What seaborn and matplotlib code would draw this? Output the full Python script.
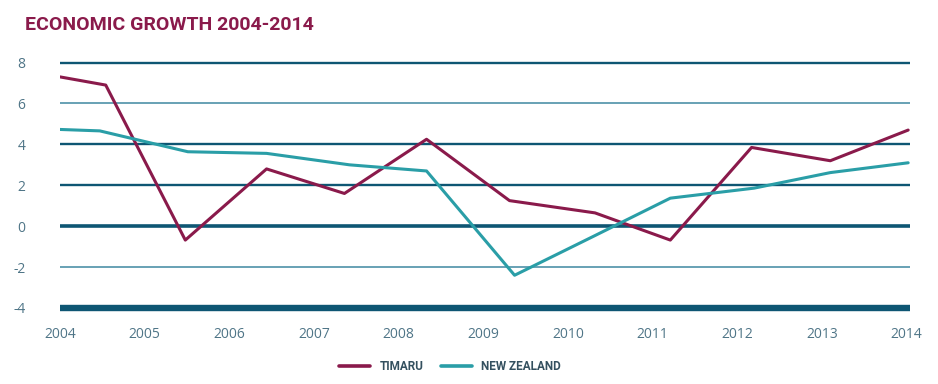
import matplotlib
matplotlib.use("Agg")
import matplotlib.pyplot as plt
import pandas as pd
import seaborn as sns

# data
timaru_x = [2004.0, 2004.54, 2005.48, 2006.44, 2007.36, 2008.33, 2009.31,
            2010.32, 2011.21, 2012.17, 2013.1, 2014.02]
timaru_y = [7.3, 6.9, -0.68, 2.8, 1.6, 4.25, 1.25, 0.65, -0.68, 3.85, 3.2, 4.7]
nz_x = [2004.0, 2004.47, 2005.51, 2006.44, 2007.42, 2008.33, 2009.37,
        2010.3, 2011.21, 2012.2, 2013.1, 2014.02]
nz_y = [4.73, 4.66, 3.64, 3.56, 3.0, 2.7, -2.4, -0.5, 1.37, 1.86, 2.62, 3.1]
years = list(range(2004, 2015))
y_ticks = [8, 6, 4, 2, 0, -2, -4]

df = pd.concat([
    pd.DataFrame({"year": timaru_x, "growth": timaru_y, "region": "TIMARU"}),
    pd.DataFrame({"year": nz_x, "growth": nz_y, "region": "NEW ZEALAND"}),
])

sns.set_style("white")
plt.rcParams["font.family"] = ["Open Sans", "DejaVu Sans"]
narrow = ["Roboto", "DejaVu Sans"]

fig = plt.figure(figsize=(9.38, 3.84), dpi=100)
ax = fig.add_axes([0.064, 0.182, 0.906, 0.671])

# horizontal rules, heavier at 0 and the floor
grid_dark = "#0e5673"
grid_light = "#3f87a0"
for t in y_ticks:
    if t == -4:
        ax.axhline(t, color=grid_dark, lw=4.6, zorder=1)
    elif t == 0:
        ax.axhline(t, color=grid_dark, lw=2.6, zorder=1)
    elif t in (6, -2):
        ax.axhline(t, color=grid_light, lw=1.1, zorder=1)
    else:
        ax.axhline(t, color=grid_dark, lw=1.7, zorder=1)

sns.lineplot(data=df, x="year", y="growth", hue="region",
             palette={"TIMARU": "#8a1a4b", "NEW ZEALAND": "#2a9ea7"},
             linewidth=2.2, sort=False, ax=ax, zorder=3)

ax.set_xlim(2004, 2014.04)
ax.set_ylim(-4.3, 8.3)
ax.set_xticks(years)
ax.set_yticks(y_ticks)
ax.set_yticklabels([str(t) for t in y_ticks])
ax.tick_params(axis="both", length=0, labelsize=10, labelcolor="#4f7587")
ax.tick_params(axis="y", pad=25)
ax.tick_params(axis="x", pad=9)
ax.set_xlabel("")
ax.set_ylabel("")
for s in ax.spines.values():
    s.set_visible(False)

leg = ax.legend(loc="center", bbox_to_anchor=(0.459, -0.202), ncol=2,
                frameon=False, handlelength=2.6, columnspacing=1.5,
                handletextpad=0.8,
                prop={"family": narrow, "weight": "bold", "size": 8.5})
for text in leg.get_texts():
    text.set_color("#34505f")
for line in leg.get_lines():
    line.set_linewidth(2.6)

fig.text(0.027, 0.935, "ECONOMIC GROWTH 2004-2014", color="#8a1a4b",
         fontsize=14, fontweight="bold", family=narrow,
         va="center", ha="left")

fig.savefig("out.png", dpi=100)
